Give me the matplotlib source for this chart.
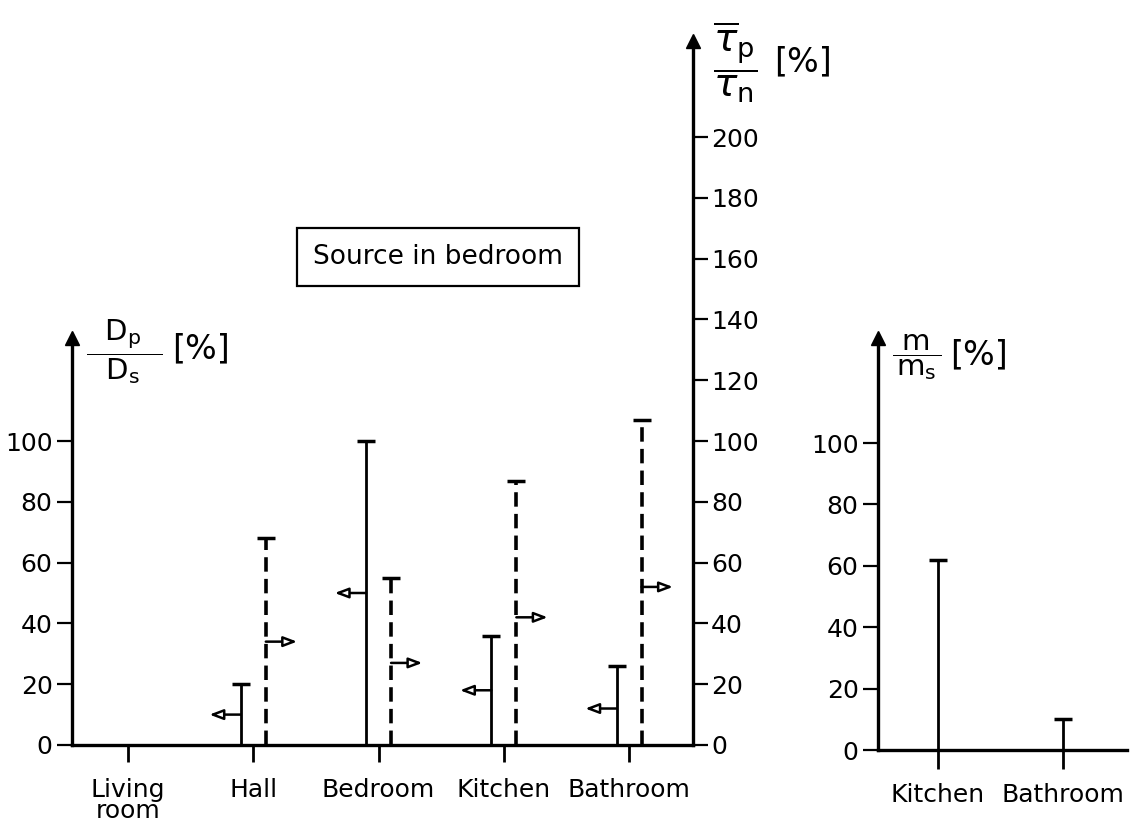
import numpy as np
import matplotlib
matplotlib.use("Agg")
import matplotlib.pyplot as plt

# data
rooms = ["Living\nroom", "Hall", "Bedroom", "Kitchen", "Bathroom"]
d_ratio = [np.nan, 20, 100, 36, 26]          # Dp/Ds [%], left axis, solid
tau_ratio = [np.nan, 68, 55, 87, 107]        # tau_p/tau_n [%], right axis, dashed
d_arrow = [np.nan, 10, 50, 18, 12]           # heights of left-pointing arrows
tau_arrow = [np.nan, 34, 27, 42, 52]         # heights of right-pointing arrows

m_rooms = ["Kitchen", "Bathroom"]
m_ratio = [62, 10]                           # m/ms [%]

W, H = 1134, 822
plt.rcParams["font.family"] = ["DejaVu Sans"]
plt.rcParams["font.size"] = 18
plt.rcParams["mathtext.fontset"] = "dejavusans"
LW = 2.0

fig = plt.figure(figsize=(W / 100, H / 100), dpi=100)


def px_axes(x0, x1, y0, y1):
    # axes from pixel box (y measured from top)
    return fig.add_axes([x0 / W, 1 - y0 / H, (x1 - x0) / W, (y0 - y1) / H])


# ---- left panel ----
ax = px_axes(72, 693, 745, 32)
ymax = (745 - 32) / 3.04
ax.set_ylim(0, ymax)
ax.set_xlim(-0.447, 4.51)
ax2 = ax.twinx()
ax2.set_ylim(0, ymax)

x = np.arange(len(rooms))
xs = x - 0.1
xd = x + 0.1
ax.vlines(xs, 0, d_ratio, color="black", lw=LW)
ax.plot(xs, d_ratio, ls="none", marker="_", ms=13, mew=LW + 0.5, color="black")
ax.vlines(xd, 0, tau_ratio, color="black", lw=LW + 0.6, linestyles=(0, (4, 2)))
ax.plot(xd, tau_ratio, ls="none", marker="_", ms=13, mew=LW + 0.5, color="black")

arrow_style = dict(arrowstyle="-|>,head_length=0.45,head_width=0.17",
                   color="black", lw=1.8, fc="white", shrinkA=0, shrinkB=0)
for i in range(len(rooms)):
    if np.isnan(d_arrow[i]):
        continue
    ax.annotate("", xy=(xs[i] - 0.25, d_arrow[i]), xytext=(xs[i], d_arrow[i]),
                arrowprops=arrow_style)
    ax.annotate("", xy=(xd[i] + 0.25, tau_arrow[i]), xytext=(xd[i], tau_arrow[i]),
                arrowprops=arrow_style)

for s in ["top", "right"]:
    ax.spines[s].set_visible(False)
for s in ["top", "left", "bottom"]:
    ax2.spines[s].set_visible(False)
left_top = (745 - 338) / 3.04
ax.spines["left"].set_bounds(0, left_top)
ax2.spines["right"].set_bounds(0, ymax - 3)
for s in ["left", "bottom"]:
    ax.spines[s].set_linewidth(LW + 0.4)
ax2.spines["right"].set_linewidth(LW + 0.4)

ax.plot(0, left_top, marker="^", ms=10, color="black", clip_on=False,
        transform=ax.get_yaxis_transform())
ax2.plot(1, ymax - 3, marker="^", ms=10, color="black", clip_on=False,
         transform=ax2.get_yaxis_transform())

ax.set_yticks(np.arange(0, 101, 20))
ax2.set_yticks(np.arange(0, 201, 20))
ax.set_xticks(x)
ax.set_xticklabels(rooms, linespacing=0.85)
ax.tick_params(axis="y", direction="out", length=11, width=1.6, pad=3)
ax2.tick_params(axis="y", direction="out", length=11, width=1.6, pad=2)
ax.tick_params(axis="x", direction="out", length=12, width=2.0, pad=12)

fig.text(86 / W, 1 - 352 / H, r"$\dfrac{\ \ \mathrm{D_p}\ \ }{\ \ \mathrm{D_s}\ \ }$",
         fontsize=21, va="center", ha="left")
fig.text(172 / W, 1 - 349 / H, "[%]", fontsize=24, va="center", ha="left")
fig.text(713 / W, 1 - 62 / H,
         r"$\dfrac{\overline{\tau}_\mathrm{p}}{\tau_\mathrm{n}}$",
         fontsize=28, va="center", ha="left")
fig.text(774 / W, 1 - 62 / H, "[%]", fontsize=24, va="center", ha="left")

fig.text(438 / W, 1 - 257 / H, "Source in bedroom", ha="center", va="center",
         fontsize=19,
         bbox=dict(boxstyle="square,pad=0.6", fc="white", ec="black", lw=1.6))

# ---- right panel ----
bx = px_axes(878, 1127, 750, 338)
bx.set_ylim(0, (750 - 338) / 3.07)
bx.set_xlim(-0.48, 1.51)
xm = np.arange(len(m_rooms))
bx.vlines(xm, 0, m_ratio, color="black", lw=LW)
bx.plot(xm, m_ratio, ls="none", marker="_", ms=13, mew=LW + 0.5, color="black")
for s in ["top", "right"]:
    bx.spines[s].set_visible(False)
for s in ["left", "bottom"]:
    bx.spines[s].set_linewidth(LW + 0.4)
bx.plot(0, 1, marker="^", ms=10, color="black", clip_on=False,
        transform=bx.transAxes)
bx.set_yticks(np.arange(0, 101, 20))
bx.set_xticks(xm)
bx.set_xticklabels(m_rooms)
bx.tick_params(axis="y", direction="out", length=11, width=1.6, pad=3)
bx.tick_params(axis="x", direction="out", length=14, width=2.0, pad=10)

fig.text(892 / W, 1 - 357 / H, r"$\dfrac{\ \mathrm{m}\ }{\mathrm{m_s}}$",
         fontsize=21, va="center", ha="left")
fig.text(950 / W, 1 - 355 / H, "[%]", fontsize=24, va="center", ha="left")

fig.savefig("out.png", dpi=100)
